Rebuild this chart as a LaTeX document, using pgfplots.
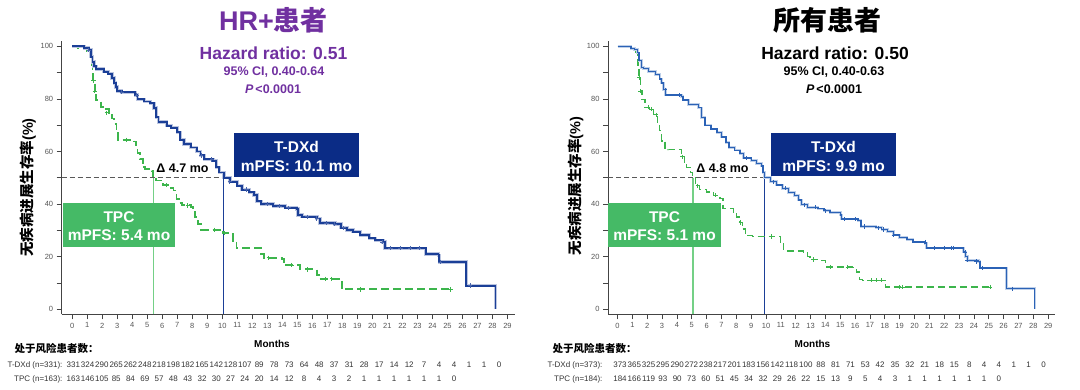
\documentclass[border=0pt]{standalone}
\usepackage{pgfplots}
\pgfplotsset{compat=1.18}
\usepackage{fontspec}
\setmainfont{Liberation Sans}
\newfontfamily\cjk{Noto Sans CJK SC}
\definecolor{navyA}{HTML}{1B3F97}
\definecolor{blueB}{HTML}{2B62B6}
\definecolor{tpcgreen}{HTML}{3CB54C}
\definecolor{medgreen}{HTML}{74D086}
\definecolor{tdxdbox}{HTML}{0B2C86}
\definecolor{tpcbox}{HTML}{45BA66}
\definecolor{hrpurple}{HTML}{7030A0}
\definecolor{axisgray}{HTML}{444444}
\definecolor{tlgray}{HTML}{555555}

\pgfplotsset{
  kmaxis/.style={
    scale only axis, height=273.3pt,
    ymin=-1.9, ymax=102,
    axis x line=bottom, axis y line=left,
    axis line style={-, draw=axisgray, line width=0.8pt},
    xtick={0,...,29}, ytick={0,20,...,100}, minor ytick={10,30,...,90},
    tick align=outside, major tick length=5pt, minor tick length=5pt,
    tick style={draw=axisgray, line width=0.7pt},
    ticklabel style={font=\fontsize{7.5}{8}\selectfont, text=tlgray},
    /pgf/number format/assume math mode=true,
    clip=false,
  }
}

\begin{document}
\begin{tikzpicture}
\path[use as bounding box] (0,0) rectangle (1080pt,390pt);

% ================= LEFT =================
\begin{axis}[kmaxis, width=453.3pt, at={(61.7pt,75.7pt)}, anchor=south west,
  xmin=-0.7, xmax=29.5]
% median reference lines
\addplot[draw=black!65, line width=0.8pt, dash pattern=on 5pt off 3pt] coordinates {(-0.7,50) (10.1,50)};
\addplot[draw=medgreen, line width=1.5pt] coordinates {(5.4,-1.9) (5.4,50)};
\addplot[draw=navyA, line width=1pt] coordinates {(10.1,-1.9) (10.1,50)};
% TPC
\addplot[const plot, draw=tpcgreen, line width=1.8pt, dash pattern=on 8pt off 4pt] coordinates {
(0,100) (0.4,99.4) (0.95,98.2) (1.15,96.8) (1.3,93) (1.35,90) (1.4,87) (1.5,83) (1.6,79.5)
(1.9,77) (2.1,76) (2.45,74.7) (2.65,72.5) (2.8,70.5) (2.95,67) (3.05,64.4) (4.1,63.8)
(4.25,61.5) (4.35,59.5) (4.5,57) (4.7,54) (4.85,53.4) (5.3,52.5) (5.4,50) (5.6,49)
(6.05,47.2) (6.5,46) (6.75,45.2) (6.95,42) (7.15,40.5) (7.3,39.5) (7.9,38.8) (8.05,37)
(8.2,35) (8.4,32.5) (8.6,30.2) (10.05,29) (10.5,28.6) (10.7,26) (10.95,23.2) (12.4,23.2)
(12.6,21) (12.8,19.6) (14.0,19) (14.1,16.8) (15.1,16.8) (15.2,15.2) (16.1,15.2) (16.3,13)
(16.45,11.6) (17.9,11.6) (17.95,7.6) (25.2,7.6)};
\addplot[only marks, mark=+, mark size=2.2pt, draw=tpcgreen, line width=0.8pt] coordinates {
(1.42,87) (1.5,83) (2.3,74.7) (3.6,64.4) (6.3,47.2) (7.7,39.5) (9.5,30.2) (10.15,29)
(13.1,19.6) (14.6,16.8) (15.7,15.2) (16.9,11.6) (17.3,11.6) (19.2,7.6) (25.2,7.6)};
% T-DXd
\addplot[const plot, draw=navyA!30, line width=3.4pt] coordinates {
(0,100) (0.8,99.4) (1.1,98.5) (1.25,96) (1.35,94) (1.45,92.4) (1.6,91.3) (2.1,90.3) (2.4,89.6)
(2.65,88) (2.8,86) (2.9,84.5) (3.0,83) (3.3,82.5) (4.2,81.5) (4.35,79.8) (4.8,79) (5.2,78.3)
(5.45,76.5) (5.6,73) (5.75,71.2) (6.3,69.8) (6.6,69) (7.0,67.3) (7.2,64.5) (7.45,62.8)
(7.9,61.5) (8.3,60) (8.55,58.5) (8.8,57) (9.4,56.5) (9.6,54) (9.8,52) (10.1,50) (10.5,48.5)
(11.0,47) (11.3,45.5) (11.8,44.5) (12.1,43.5) (12.3,41) (12.6,40) (13.4,39.2) (14.2,38.6)
(14.95,38.2) (15.05,35.8) (15.3,35.2) (16.3,34.5) (16.5,32.8) (17.5,32.4) (17.9,31) (18.3,30.2)
(18.7,29.5) (19.2,28.3) (19.8,27) (20.2,26.2) (20.7,25.6) (20.85,23.2) (23.45,23.2) (23.55,21)
(24.4,20.5) (24.45,18) (26.2,18) (26.25,9) (28.2,9) (28.2,0)};
\addplot[const plot, draw=navyA, line width=1.9pt] coordinates {
(0,100) (0.8,99.4) (1.1,98.5) (1.25,96) (1.35,94) (1.45,92.4) (1.6,91.3) (2.1,90.3) (2.4,89.6)
(2.65,88) (2.8,86) (2.9,84.5) (3.0,83) (3.3,82.5) (4.2,81.5) (4.35,79.8) (4.8,79) (5.2,78.3)
(5.45,76.5) (5.6,73) (5.75,71.2) (6.3,69.8) (6.6,69) (7.0,67.3) (7.2,64.5) (7.45,62.8)
(7.9,61.5) (8.3,60) (8.55,58.5) (8.8,57) (9.4,56.5) (9.6,54) (9.8,52) (10.1,50) (10.5,48.5)
(11.0,47) (11.3,45.5) (11.8,44.5) (12.1,43.5) (12.3,41) (12.6,40) (13.4,39.2) (14.2,38.6)
(14.95,38.2) (15.05,35.8) (15.3,35.2) (16.3,34.5) (16.5,32.8) (17.5,32.4) (17.9,31) (18.3,30.2)
(18.7,29.5) (19.2,28.3) (19.8,27) (20.2,26.2) (20.7,25.6) (20.85,23.2) (23.45,23.2) (23.55,21)
(24.4,20.5) (24.45,18) (26.2,18) (26.25,9) (28.2,9) (28.2,0)};
\addplot[only marks, mark=+, mark size=2.2pt, draw=navyA!80, line width=0.8pt] coordinates {
(1.1,98.5) (3.3,82.5) (4.3,81.5) (8.6,58.5) (9.3,57) (10.5,48.5) (11.6,45.5) (13.0,40)
(13.8,39.2) (14.4,38.6) (15.65,35.2) (16.3,34.5) (16.95,32.8) (17.5,32.4) (18.1,31)
(20.65,25.6) (21.2,23.2) (21.87,23.2) (22.5,23.2) (23.1,23.2) (24.5,18) (26.5,9)};
\end{axis}

% ================= RIGHT =================
\begin{axis}[kmaxis, width=447pt, at={(608pt,75.7pt)}, anchor=south west,
  xmin=-0.64, xmax=29.46]
\addplot[draw=black!65, line width=0.8pt, dash pattern=on 5pt off 3pt] coordinates {(-0.64,50) (9.9,50)};
\addplot[draw=medgreen, line width=1.5pt] coordinates {(5.1,-1.9) (5.1,50)};
\addplot[draw=navyA, line width=1pt] coordinates {(9.9,-1.9) (9.9,50)};
% TPC
\addplot[const plot, draw=tpcgreen, line width=1.2pt, dash pattern=on 7pt off 4pt] coordinates {
(0,100) (0.85,98.7) (1.2,97.5) (1.32,95.6) (1.38,91.8) (1.45,88) (1.55,83) (1.65,79.7)
(1.85,76.8) (2.15,76) (2.45,74) (2.7,70.5) (2.85,68) (2.97,64) (3.2,61) (3.4,60.6) (4.15,60.6)
(4.3,58) (4.5,56) (4.65,54) (4.9,52) (5.05,50) (5.25,47) (5.5,45.5) (6.0,44.6) (6.45,43.3)
(6.9,42) (7.1,38.2) (7.8,37) (8.0,35.1) (8.2,33) (8.4,30.5) (8.6,28.1) (9.1,27.8) (10.5,27.7)
(10.95,25) (11.2,22.2) (12.5,21.8) (12.8,20) (12.96,18.9) (13.6,18.6) (14.0,17) (14.1,16.1)
(15.8,15.8) (16.1,14.2) (16.3,11.3) (16.5,11) (18.0,11) (18.05,8.5) (25.1,8.5)};
\addplot[only marks, mark=+, mark size=2.1pt, draw=tpcgreen, line width=0.7pt] coordinates {
(1.45,88) (1.55,83) (2.05,76.8) (2.25,76) (2.6,74) (4.35,58) (5.4,47) (6.6,43.3) (8.3,33)
(10.35,27.7) (13.2,18.9) (14.3,16.1) (15.5,16.1) (17.1,11) (17.4,11) (17.8,11) (19.0,8.5)
(19.2,8.5) (25.1,8.5)};
% T-DXd
\addplot[const plot, draw=blueB!30, line width=2.6pt] coordinates {
(0,100) (0.9,99.2) (1.15,98.7) (1.35,97.5) (1.45,94.5) (1.6,92) (1.75,91.5) (2.1,90.5)
(2.55,89.2) (2.85,87.5) (2.95,86) (3.1,83.5) (3.25,81.5) (4.3,80.8) (4.4,79.6) (4.8,77.8)
(5.45,76.6) (5.65,73) (5.9,70) (6.3,68.5) (6.7,67.3) (7.0,65.5) (7.3,63.5) (7.5,61.5)
(7.9,60.5) (8.25,59.2) (8.5,57.5) (9.0,56.5) (9.35,55.5) (9.7,54.5) (9.8,52) (9.9,50)
(10.3,48.5) (10.7,47.3) (11.1,46) (11.5,44.3) (11.9,43.2) (12.2,41.5) (12.4,39.8) (12.8,38.8)
(13.5,38.2) (13.9,37.5) (14.3,36.8) (15.0,35.8) (15.1,34.3) (16.2,33.8) (16.4,31.5) (17.4,31)
(17.8,30.3) (18.2,29.5) (18.6,28.2) (19.0,27.3) (19.5,26.5) (19.9,25.6) (20.7,24.9) (20.8,23.3)
(23.2,23.3) (23.3,21.8) (23.45,20) (23.55,18.6) (24.3,18.2) (24.4,15.7) (26.15,15.7) (26.2,7.8)
(28.1,7.8) (28.1,0)};
\addplot[const plot, draw=blueB, line width=1.3pt] coordinates {
(0,100) (0.9,99.2) (1.15,98.7) (1.35,97.5) (1.45,94.5) (1.6,92) (1.75,91.5) (2.1,90.5)
(2.55,89.2) (2.85,87.5) (2.95,86) (3.1,83.5) (3.25,81.5) (4.3,80.8) (4.4,79.6) (4.8,77.8)
(5.45,76.6) (5.65,73) (5.9,70) (6.3,68.5) (6.7,67.3) (7.0,65.5) (7.3,63.5) (7.5,61.5)
(7.9,60.5) (8.25,59.2) (8.5,57.5) (9.0,56.5) (9.35,55.5) (9.7,54.5) (9.8,52) (9.9,50)
(10.3,48.5) (10.7,47.3) (11.1,46) (11.5,44.3) (11.9,43.2) (12.2,41.5) (12.4,39.8) (12.8,38.8)
(13.5,38.2) (13.9,37.5) (14.3,36.8) (15.0,35.8) (15.1,34.3) (16.2,33.8) (16.4,31.5) (17.4,31)
(17.8,30.3) (18.2,29.5) (18.6,28.2) (19.0,27.3) (19.5,26.5) (19.9,25.6) (20.7,24.9) (20.8,23.3)
(23.2,23.3) (23.3,21.8) (23.45,20) (23.55,18.6) (24.3,18.2) (24.4,15.7) (26.15,15.7) (26.2,7.8)
(28.1,7.8) (28.1,0)};
\addplot[only marks, mark=+, mark size=2.1pt, draw=blueB, line width=0.7pt] coordinates {
(3.2,83.5) (4.15,81.5) (8.7,57.5) (10.5,48.5) (11.3,46) (12.6,39.8) (13.3,38.8) (14.0,37.5)
(15.3,34.3) (16.0,34.3) (16.65,31.5) (17.55,31) (17.9,30.3) (18.6,28.2) (20.7,25.6)
(21.35,23.3) (22.0,23.3) (22.5,23.3) (22.6,23.3) (23.4,21.8) (23.55,18.6) (24.15,18.2)
(24.6,15.7) (26.6,7.8)};
\end{axis}

% ================= annotations =================
\tikzset{bx/.style={text=white, font=\fontsize{15.5}{17}\selectfont\bfseries, inner sep=0pt}}
% left
\node[text=hrpurple, font=\fontsize{27}{30}\selectfont\bfseries] at (273.5pt,370pt) {HR+{\cjk 患者}};
\node[text=hrpurple, font=\fontsize{17.5}{19}\selectfont\bfseries] at (273.5pt,337pt) {Hazard ratio: 0.51};
\node[text=hrpurple, font=\fontsize{12.5}{14}\selectfont\bfseries] at (274pt,317.5pt) {95\% CI, 0.40-0.64};
\node[text=hrpurple, font=\fontsize{12.5}{14}\selectfont\bfseries] at (273pt,300.5pt) {\textit{P}\,<0.0001};
\fill[tdxdbox] (234pt,213pt) rectangle (359pt,257pt);
\node[bx] at (296.5pt,243pt) {T-DXd};
\node[bx] at (296.5pt,224pt) {mPFS: 10.1 mo};
\fill[tpcbox] (63pt,143pt) rectangle (175pt,187pt);
\node[bx] at (119pt,173pt) {TPC};
\node[bx] at (119pt,155pt) {mPFS: 5.4 mo};
\node[font=\fontsize{12.5}{13}\selectfont\bfseries] at (182.5pt,222pt) {Δ 4.7 mo};
\node[rotate=90, font=\fontsize{14.5}{16}\selectfont\bfseries] at (28pt,202.5pt) {{\cjk 无疾病进展生存率}(\%)};
\node[font=\fontsize{10}{11}\selectfont\bfseries] at (272pt,46pt) {Months};
\node[anchor=west, font=\fontsize{10.5}{11}\selectfont\bfseries\cjk] at (11pt,42pt) {处于风险患者数：};
\node[anchor=east, font=\fontsize{8}{9}\selectfont, text=black!80] at (66pt,25pt) {T-DXd (n=331):};
\node[anchor=east, font=\fontsize{8}{9}\selectfont, text=black!80] at (66pt,11pt) {TPC (n=163):};
\foreach \v [count=\i from 0] in {331,324,290,265,262,248,218,198,182,165,142,128,107,89,78,73,64,48,37,31,28,17,14,12,7,4,4,1,1,0} {
  \pgfmathsetmacro\xx{\i<14 ? 73.3+14.3*\i : 259.2+15.0*(\i-13)}
  \node[font=\fontsize{8}{9}\selectfont, text=black!80] at (\xx pt,25pt) {\v};
}
\foreach \v [count=\i from 0] in {163,146,105,85,84,69,57,48,43,32,30,27,24,20,14,12,8,4,3,2,1,1,1,1,1,1,0} {
  \pgfmathsetmacro\xx{\i<14 ? 73.3+14.3*\i : 259.2+15.0*(\i-13)}
  \node[font=\fontsize{8}{9}\selectfont, text=black!80] at (\xx pt,11pt) {\v};
}
% right
\node[font=\fontsize{27}{30}\selectfont\bfseries\cjk] at (827.5pt,370pt) {所有患者};
\node[font=\fontsize{17.5}{19}\selectfont\bfseries] at (835pt,337pt) {Hazard ratio: 0.50};
\node[font=\fontsize{12.5}{14}\selectfont\bfseries] at (834pt,317.5pt) {95\% CI, 0.40-0.63};
\node[font=\fontsize{12.5}{14}\selectfont\bfseries] at (834pt,300.5pt) {\textit{P}\,<0.0001};
\fill[tdxdbox] (771pt,214pt) rectangle (896pt,257pt);
\node[bx] at (833.5pt,243pt) {T-DXd};
\node[bx] at (833.5pt,224pt) {mPFS: 9.9 mo};
\fill[tpcbox] (608pt,143pt) rectangle (721pt,187pt);
\node[bx] at (664.5pt,173pt) {TPC};
\node[bx] at (664.5pt,155pt) {mPFS: 5.1 mo};
\node[font=\fontsize{12.5}{13}\selectfont\bfseries] at (722.5pt,221.5pt) {Δ 4.8 mo};
\node[rotate=90, font=\fontsize{14.5}{16}\selectfont\bfseries] at (575.5pt,204pt) {{\cjk 无疾病进展生存率}(\%)};
\node[font=\fontsize{10}{11}\selectfont\bfseries] at (812.5pt,46pt) {Months};
\node[anchor=west, font=\fontsize{10.5}{11}\selectfont\bfseries\cjk] at (549pt,42pt) {处于风险患者数：};
\node[anchor=east, font=\fontsize{8}{9}\selectfont, text=black!80] at (606pt,25pt) {T-DXd (n=373):};
\node[anchor=east, font=\fontsize{8}{9}\selectfont, text=black!80] at (606pt,11pt) {TPC (n=184):};
\foreach \v [count=\i from 0] in {373,365,325,295,290,272,238,217,201,183,156,142,118,100,88,81,71,53,42,35,32,21,18,15,8,4,4,1,1,0} {
  \pgfmathsetmacro\xx{\i<14 ? 620+14.3*\i : 805.9+14.85*(\i-13)}
  \node[font=\fontsize{8}{9}\selectfont, text=black!80] at (\xx pt,25pt) {\v};
}
\foreach \v [count=\i from 0] in {184,166,119,93,90,73,60,51,45,34,32,29,26,22,15,13,9,5,4,3,1,1,1,1,1,1,0} {
  \pgfmathsetmacro\xx{\i<14 ? 620+14.3*\i : 805.9+14.85*(\i-13)}
  \node[font=\fontsize{8}{9}\selectfont, text=black!80] at (\xx pt,11pt) {\v};
}
\end{tikzpicture}
\end{document}
